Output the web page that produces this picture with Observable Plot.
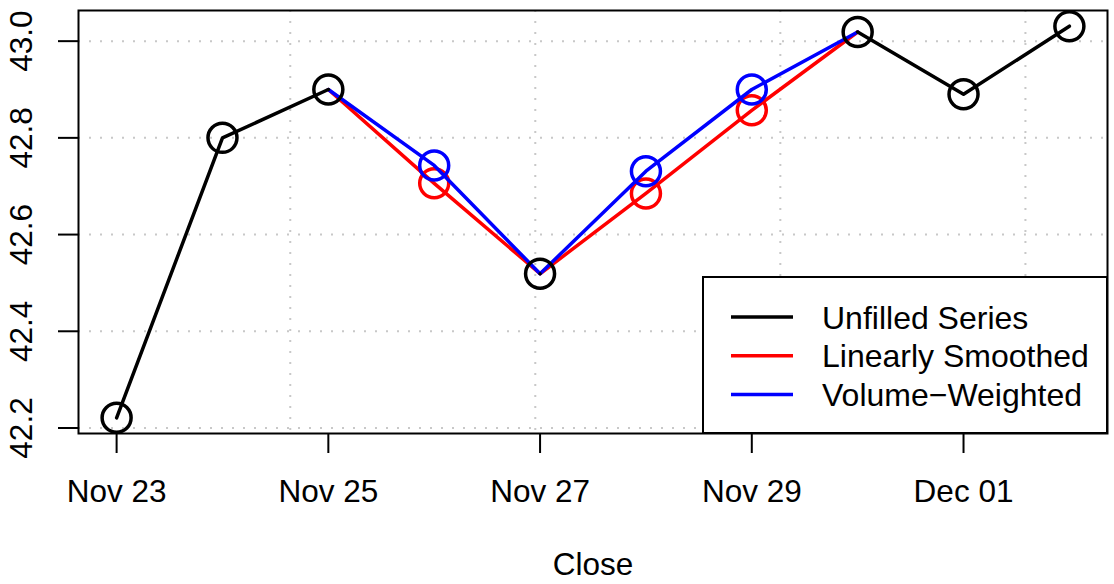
<!DOCTYPE html>
<html>
<head>
<meta charset="utf-8">
<script src="https://cdn.jsdelivr.net/npm/d3@7"></script>
<script src="https://cdn.jsdelivr.net/npm/@observablehq/plot@0.6"></script>
<style>
  html, body { margin: 0; padding: 0; background: #fff; }
  #chart svg { display: block; }
</style>
</head>
<body>
<div id="chart"></div>
<script>
// ---- data ----
const dates = ["2017-11-23","2017-11-24","2017-11-25","2017-11-26","2017-11-27","2017-11-28","2017-11-29","2017-11-30","2017-12-01","2017-12-02"];
const unfilled = [42.221, 42.80, 42.90, null, 42.519, null, null, 43.019, 42.89, 43.031];
const linear   = [null, null, 42.90, 42.706, 42.519, 42.685, 42.857, 43.019, null, null];
const volume   = [null, null, 42.90, 42.743, 42.519, 42.731, 42.90, 43.019, null, null];
const xTicks = ["2017-11-23","2017-11-25","2017-11-27","2017-11-29","2017-12-01"];
const yTicks = [42.2, 42.4, 42.6, 42.8, 43.0];
const xGrid = ["2017-11-24T15:22Z","2017-11-26T22:55Z","2017-11-29T06:28Z","2017-12-01T14:02Z"];
const xDomain = ["2017-11-22T15:21:36Z","2017-12-02T08:38:24Z"];
const yDomain = [42.1886, 43.0634];
const seriesNames = ["Unfilled Series","Linearly Smoothed","Volume\u2212Weighted"];
const seriesColors = ["#000000","#ff0000","#0000ff"];
const xLabel = "Close";

// ---- build ----
const parse = s => new Date(s.length === 10 ? s + "T00:00:00Z" : s);
const rows = dates.map((d, i) => ({date: parse(d), unfilled: unfilled[i], linear: linear[i], volume: volume[i], gap: unfilled[i] == null}));
const font = "Liberation Sans, Arial, Helvetica, sans-serif";
const r = 14.5, lw = 3.5, fs = 31.5;

const plot = Plot.plot({
  width: 1114,
  height: 584,
  marginLeft: 78,
  marginRight: 7,
  marginTop: 10,
  marginBottom: 151,
  style: {fontFamily: font, background: "#fff", color: "#000"},
  x: {type: "utc", domain: xDomain.map(parse)},
  y: {domain: yDomain},
  marks: [
    Plot.ruleY(yTicks, {stroke: "#c8c8c8", strokeWidth: 2, strokeDasharray: "2,9"}),
    Plot.ruleX(xGrid.map(parse), {stroke: "#c8c8c8", strokeWidth: 2, strokeDasharray: "2,9"}),
    Plot.line(rows, {x: "date", y: "linear", stroke: seriesColors[1], strokeWidth: lw}),
    Plot.dot(rows.filter(d => d.gap), {x: "date", y: "linear", r, stroke: seriesColors[1], strokeWidth: lw}),
    Plot.line(rows, {x: "date", y: "volume", stroke: seriesColors[2], strokeWidth: lw}),
    Plot.dot(rows.filter(d => d.gap), {x: "date", y: "volume", r, stroke: seriesColors[2], strokeWidth: lw}),
    Plot.line(rows, {x: "date", y: "unfilled", stroke: seriesColors[0], strokeWidth: lw}),
    Plot.dot(rows.filter(d => !d.gap), {x: "date", y: "unfilled", r, stroke: seriesColors[0], strokeWidth: lw}),
    Plot.axisX({ticks: xTicks.map(parse), tickFormat: d3.utcFormat("%b %d"), tickSize: 20, tickPadding: 26, fontSize: fs, strokeWidth: 2, label: null}),
    Plot.axisY({ticks: yTicks, tickFormat: d3.format(".1f"), tickSize: 20, tickPadding: 27, tickRotate: -90, fontSize: fs, strokeWidth: 2, label: null}),
    Plot.frame({stroke: "#000", strokeWidth: 2}),
    Plot.text([xLabel], {frameAnchor: "bottom", dy: 131, fontSize: fs, lineAnchor: "middle"})
  ]
});
document.getElementById("chart").appendChild(plot);

// ---- legend (inside plot area, bottom-right) ----
const svg = d3.select(plot);
const lg = svg.append("g").attr("font-family", font).attr("text-anchor", "start");
lg.append("rect").attr("x", 703).attr("y", 277).attr("width", 404).attr("height", 156)
  .attr("fill", "#fff").attr("stroke", "#000").attr("stroke-width", 2);
seriesNames.forEach((name, i) => {
  const y = 317 + i * 38.7;
  lg.append("line").attr("x1", 731).attr("x2", 793).attr("y1", y).attr("y2", y)
    .attr("stroke", seriesColors[i]).attr("stroke-width", lw);
  lg.append("text").attr("x", 822).attr("y", y).attr("dy", "0.36em")
    .attr("text-anchor", "start").attr("font-size", 32).attr("fill", "#000").text(name);
});
</script>
</body>
</html>
